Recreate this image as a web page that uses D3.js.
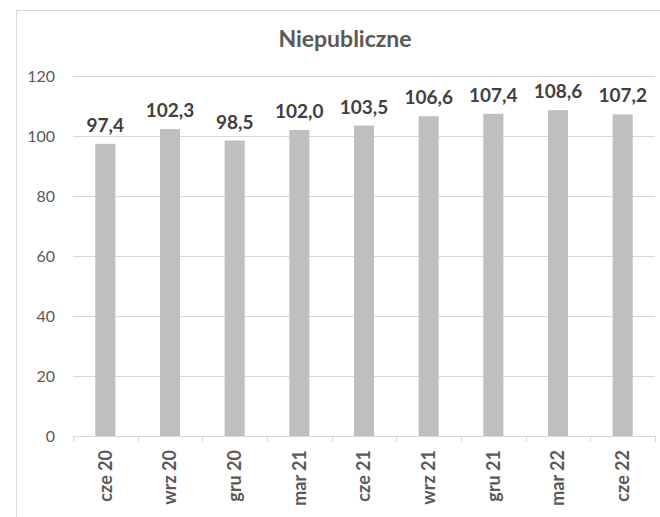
<!DOCTYPE html>
<html>
<head>
<meta charset="utf-8">
<script src="https://cdn.jsdelivr.net/npm/d3@7"></script>
<style>
  body { margin: 0; background: white; }
  svg { display: block; font-family: Lato, 'Open Sans', sans-serif; }
</style>
</head>
<body>
<div id="chart"></div>
<script>
var categories = ['cze 20', 'wrz 20', 'gru 20', 'mar 21', 'cze 21', 'wrz 21', 'gru 21', 'mar 22', 'cze 22'];
var values = [97.4, 102.3, 98.5, 102.0, 103.5, 106.6, 107.4, 108.6, 107.2];
var yTicks = [0, 20, 40, 60, 80, 100, 120];
var title = 'Niepubliczne';

var svgWidth = 660,
    svgHeight = 517;
var plotLeft = 73, plotRight = 655, plotTop = 76, plotBottom = 436;

var svg = d3.select('#chart').append('svg')
    .attr('width', svgWidth)
    .attr('height', svgHeight);

// chart frame (runs past the right and bottom edge)
svg.append('rect')
    .attr('x', 16.5).attr('y', 10.5)
    .attr('width', 700).attr('height', 600)
    .attr('fill', 'white')
    .attr('stroke', '#d9d9d9').attr('stroke-width', 1);

// title
svg.append('text')
    .text(title)
    .attr('x', 345).attr('y', 47)
    .attr('text-anchor', 'middle')
    .attr('fill', '#595959')
    .attr('font-size', '23px').attr('font-weight', 'bold');

var x = d3.scaleBand().domain(categories).range([plotLeft, plotRight]).padding(0);
var y = d3.scaleLinear().domain([0, 120]).range([plotBottom, plotTop]);

// gridlines + y labels
var yAxis = svg.append('g')
    .attr('transform', 'translate(' + plotLeft + ',0)')
    .call(d3.axisLeft(y).tickValues(yTicks).tickSize(-(plotRight - plotLeft)).tickPadding(18));
yAxis.select('.domain').remove();
yAxis.selectAll('line').attr('stroke', '#d9d9d9');
yAxis.selectAll('text')
    .attr('fill', '#595959')
    .attr('font-size', '16px')
    .attr('font-family', 'Lato, sans-serif');

// bars
var barW = x.bandwidth() * 0.31;
svg.selectAll('.bar').data(values).enter().append('rect')
    .attr('class', 'bar')
    .attr('x', function(d, i) { return x(categories[i]) + (x.bandwidth() - barW) / 2; })
    .attr('y', function(d) { return y(d); })
    .attr('width', barW)
    .attr('height', function(d) { return y(0) - y(d); })
    .attr('fill', '#bfbfbf');

// value labels
svg.selectAll('.lbl').data(values).enter().append('text')
    .attr('class', 'lbl')
    .text(function(d) { return d3.format('.1f')(d).replace('.', ','); })
    .attr('x', function(d, i) { return x(categories[i]) + x.bandwidth() / 2; })
    .attr('y', function(d) { return y(d) - 12; })
    .attr('text-anchor', 'middle')
    .attr('fill', '#404040')
    .attr('font-size', '19px').attr('font-weight', 'bold');

// x axis line and ticks at band edges
svg.append('line')
    .attr('x1', plotLeft).attr('x2', plotRight)
    .attr('y1', plotBottom + 0.5).attr('y2', plotBottom + 0.5)
    .attr('stroke', '#d9d9d9');
var edges = categories.map(function(c) { return x(c); }).concat([plotRight]);
svg.selectAll('.tick-x').data(edges).enter().append('line')
    .attr('class', 'tick-x')
    .attr('x1', function(d) { return Math.round(d) + 0.5; })
    .attr('x2', function(d) { return Math.round(d) + 0.5; })
    .attr('y1', plotBottom).attr('y2', plotBottom + 6)
    .attr('stroke', '#d9d9d9');

// category labels (rotated)
svg.selectAll('.cat').data(categories).enter().append('text')
    .attr('class', 'cat')
    .text(function(d) { return d; })
    .attr('transform', function(d) {
        return 'translate(' + (x(d) + x.bandwidth() / 2) + ',' + 450 + ') rotate(-90)';
    })
    .attr('dy', '0.35em')
    .attr('text-anchor', 'end')
    .attr('fill', '#595959')
    .attr('font-size', '18px').attr('font-weight', 'bold');
</script>
</body>
</html>
